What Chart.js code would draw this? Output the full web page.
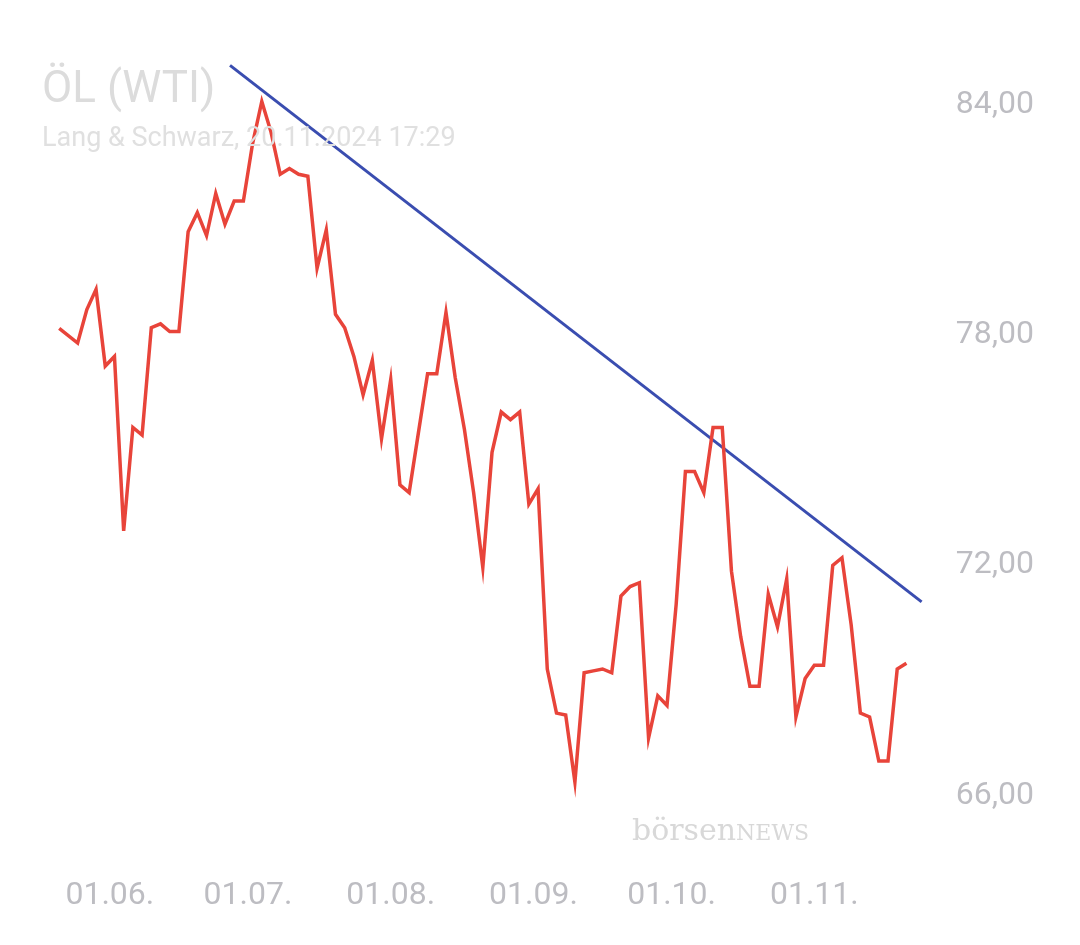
<!DOCTYPE html>
<html><head><meta charset="utf-8">
<script src="https://cdn.jsdelivr.net/npm/chart.js@4"></script>
<style>body{margin:0;background:#fff}#w{width:1080px;height:945px}</style>
</head><body><div id="w"><canvas id="c"></canvas></div>
<script>
const days=[-11,-7,-5,-3,-1,1,3,5,7,9,11,13,15,17,19,21,23,25,27,29,31,33,35,37,39,41,43,45,47,49,51,53,55,57,59,61,63,65,67,69,71,73,75,77,79,81,83,85,87,89,91,93,95,97,99,101,103,105,107,109,111,113,115,117,119,121,123,125,127,129,131,133,135,137,139,141,143,145,147,149,151,153,155,157,159,161,163,165,167,169,171,173];
const prices=[78.18,77.8,78.67,79.2,77.2,77.45,72.9,75.6,75.4,78.2,78.3,78.1,78.1,80.7,81.2,80.6,81.7,80.9,81.5,81.5,83.0,84.1,83.3,82.2,82.35,82.2,82.15,79.75,80.75,78.55,78.2,77.45,76.45,77.35,75.3,76.85,74.1,73.9,75.45,77.0,77.0,78.6,76.9,75.55,73.9,71.95,74.95,76.0,75.8,76.0,73.6,74.0,69.3,68.15,68.1,66.35,69.2,69.25,69.3,69.2,71.2,71.45,71.55,67.5,68.6,68.35,71.0,74.45,74.45,73.9,75.6,75.6,71.85,70.15,68.85,68.85,71.25,70.4,71.65,68.05,69.05,69.4,69.4,72.0,72.2,70.45,68.15,68.05,66.9,66.9,69.3,69.45];
const trendDays=[26.1,176.3];
const trendVals=[85.04,71.05];
const xTickDays=[0,30,61,92,122,153];
const xTickLabels=['01.06.','01.07.','01.08.','01.09.','01.10.','01.11.'];
const yTicks=[66,72,78,84];
const deco={id:'deco',afterDraw(ch){const c=ch.ctx;c.save();
c.fillStyle='#dcdcdc';c.font='44px Roboto';c.textBaseline='alphabetic';c.fillText('ÖL (WTI)',42,102);
c.font='27px Roboto';c.fillStyle='#e0e0e0';c.fillText('Lang & Schwarz, 20.11.2024 17:29',42,146);
c.font='30px "DejaVu Serif"';c.fillStyle='#d8d8d8';c.fillText('börsen',632,840);const w=c.measureText('börsen').width;c.font='22px "DejaVu Serif"';c.fillText('NEWS',632+w,840);
c.restore();}};
new Chart(document.getElementById('c'),{type:'scatter',
data:{datasets:[
{data:days.map((d,i)=>({x:d,y:prices[i]})),showLine:true,borderColor:'#e8443a',borderWidth:3.5,pointRadius:0,tension:0},
{data:trendDays.map((d,i)=>({x:d,y:trendVals[i]})),showLine:true,borderColor:'#3a4db0',borderWidth:3,pointRadius:0}
]},
options:{responsive:true,maintainAspectRatio:false,animation:false,
layout:{padding:{left:50,top:40,right:24,bottom:16}},
plugins:{legend:{display:false},tooltip:{enabled:false}},
scales:{
x:{type:'linear',min:-13,max:177.2,grid:{display:false},border:{display:false},
afterBuildTicks:s=>{s.ticks=xTickDays.map(v=>({value:v}));},
ticks:{color:'#bdbdc2',font:{size:32,family:'Roboto'},padding:14,maxRotation:0,callback:v=>xTickLabels[xTickDays.indexOf(v)]}},
y:{position:'right',min:64.46,max:85.67,grid:{display:false},border:{display:false},
afterBuildTicks:s=>{s.ticks=yTicks.map(v=>({value:v}));},
ticks:{color:'#bdbdc2',font:{size:32,family:'Roboto'},padding:22,callback:v=>v.toFixed(2).replace('.',',')}}
}},
plugins:[deco]});
</script></body></html>
